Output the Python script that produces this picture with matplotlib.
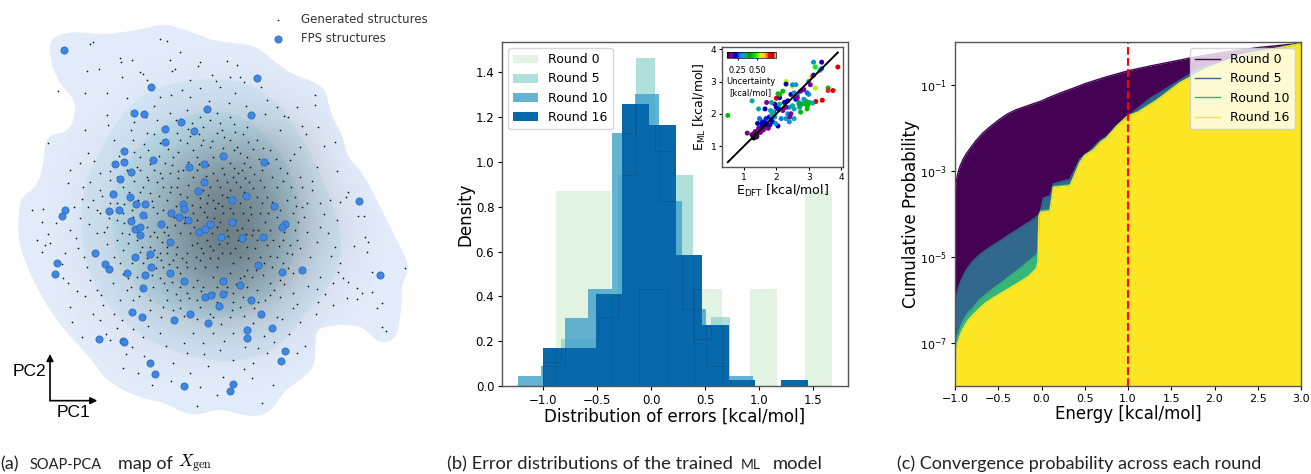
#!/usr/bin/env python3
"""Three panel figure: SOAP-PCA map, error histograms, convergence probability."""

import numpy as np
import matplotlib
matplotlib.use("Agg")
import matplotlib.pyplot as plt
from matplotlib.colors import LinearSegmentedColormap
from matplotlib.patches import PathPatch
from matplotlib.path import Path

W, H = 1311, 474

# --- panel (a), coordinates (PC1 right, PC2 down)
fps_points = [
    (193,150),(771,234),(453,262),(620,327),(403,338),(432,343),(752,344),(543,367),(494,386),(583,393),
    (495,426),(372,454),(668,467),(459,479),(371,487),(346,493),(793,486),(613,491),(568,502),(392,515),
    (359,537),(613,546),(595,572),(338,582),(391,592),(738,587),(697,599),(408,611),(436,611),(550,611),
    (1076,602),(823,619),(553,627),(195,630),(187,647),(327,632),(356,630),(514,638),(428,644),(538,652),
    (565,661),(392,664),(482,673),(697,666),(630,673),(854,673),(846,680),(405,686),(419,681),(597,695),
    (615,687),(421,705),(663,710),(727,715),(790,710),(511,726),(285,760),(449,763),(405,770),(170,789),
    (315,791),(328,807),(452,802),(775,795),(907,811),(165,821),(380,818),(509,820),(434,824),(846,817),
    (1140,826),(553,843),(669,842),(720,856),(428,863),(668,883),(615,890),(633,886),(752,899),(658,918),
    (396,936),(570,941),(784,943),(425,952),(521,959),(623,969),(740,989),(816,985),(740,1014),(297,1018),
    (370,1024),(372,1027),(855,1052),(843,1082),(450,1090),(466,1122),(552,1157),(698,1153),(689,1173),
]
gen_points = [
    (175,272),(280,127),(270,132),(480,118),(500,122),(360,175),(395,180),(260,212),(298,208),(365,230),
    (420,215),(525,207),(510,180),(570,240),(635,225),(690,230),(720,230),(600,185),(680,183),(710,195),
    (255,280),(320,280),(380,295),(440,240),(480,290),(540,155),(545,270),(600,265),(660,260),(705,280),
    (800,300),(830,320),(890,320),(945,285),(945,315),(905,378),(955,380),(1005,425),(900,440),(865,350),
    (320,345),(255,390),(145,428),(265,460),(210,510),(240,490),(270,545),(300,520),(95,630),(125,665),
    (130,628),(110,720),(135,735),(125,755),(150,730),(210,690),(240,655),(265,620),(250,560),(280,600),
    (195,760),(205,850),(190,835),(210,920),(215,965),(245,1010),(255,888),(290,870),(310,915),(360,900),
    (365,960),(330,1020),(395,1040),(370,1105),(415,1120),(455,1155),(590,1218),(650,1185),(785,1210),(820,1155),
    (755,1135),(600,1160),(520,1090),(560,1060),(610,1030),(660,1050),(700,1080),(760,1090),(800,1060),(890,1060),
    (900,965),(880,925),(955,905),(1000,915),(1040,895),(1070,865),(1085,880),(1115,875),(1145,910),(1130,925),
    (1145,980),(1158,992),(1215,803),(1115,815),(1095,712),(1105,725),(1075,648),(1045,575),(1020,605),(990,600),
    (1005,740),(1020,790),(1015,815),(985,700),(960,680),(950,725),(930,770),(960,830),(1000,850),(1045,845),
    (920,610),(935,570),(900,530),(950,500),(870,480),(905,560),(960,610),(885,690),(900,745),(880,820),
    (880,880),(840,890),(830,950),(760,970),(700,1000),(640,1000),(580,1000),(480,1000),(430,1010),(350,985),
    (300,960),(260,800),(235,745),(290,700),(320,680),(350,720),(370,750),(340,850),(380,870),(400,900),
    (450,900),(490,920),(540,900),(600,920),(640,950),(690,950),(720,920),(770,870),(810,850),(840,840),
    (860,760),(850,720),(880,640),(860,600),(830,560),(860,520),(810,450),(770,420),(740,380),(690,350),
    (650,340),(600,350),(560,330),(510,340),(470,360),(440,400),(400,420),(420,470),(380,510),(330,540),
    (300,570),(440,530),(480,520),(520,470),(560,430),(610,420),(650,400),(690,420),(720,460),(750,500),
    (780,540),(800,590),(780,640),(760,690),(740,740),(700,790),(650,800),(600,780),(560,760),(520,780),
    (480,760),(470,710),(500,680),(540,700),(590,730),(640,750),(680,730),(710,690),(670,640),(640,600),
    (600,620),(660,560),(700,530),(640,520),(580,530),(530,560),(500,600),(470,640),(450,580),(510,520),
    (560,590),(620,650),(650,680),(590,660),(570,700),(530,740),(620,720),(680,690),(730,640),(750,620),
    (770,590),(720,560),(690,490),(640,470),(590,470),(550,510),(490,560),(460,620),(440,680),(450,740),
    (490,800),(540,820),(590,840),(640,830),(690,820),(740,810),(780,770),(810,690),(830,650),(350,610),
    (370,640),(330,610),(300,640),(360,790),(410,830),(460,860),(500,870),(560,880),(700,880),(740,860),
    (610,570),(630,560),(655,610),(680,590),(620,610),(580,640),(545,630),(600,700),(635,700),(660,665),
    (700,640),(720,610),(745,660),(770,720),(690,760),(655,775),(610,760),(575,735),(545,775),(500,740),
    (515,495),(535,535),(565,555),(590,510),(625,495),(665,505),(680,545),(715,520),(735,535),(760,565),
    (785,610),(805,640),(795,665),(775,690),(755,705),(725,685),(705,660),(690,625),(665,585),(645,625),
    (625,585),(600,595),(575,615),(555,650),(525,675),(505,705),(485,725),(470,770),(500,760),(530,800),
    (560,800),(585,805),(615,800),(630,775),(665,760),(705,745),(720,770),(745,775),(765,745),(800,735),
    (820,720),(830,770),(815,800),(790,825),(755,830),(720,835),(680,860),(650,860),(610,860),(580,860),
    (540,860),(515,845),(480,835),(455,825),(430,790),(425,740),(410,720),(400,650),(415,600),(430,560),
    (470,545),(495,490),(535,455),(580,450),(630,440),(670,445),(710,440),(740,470),(785,510),(815,530),
    (350,660),(365,700),(385,730),(395,790),(385,835),(500,900),(540,925),(590,900),(650,905),(700,905),
    (730,890),(775,905),(810,885),(850,790),(870,735),(895,665),(905,620),(885,590),(840,505),(790,445),
    (745,425),(705,395),(660,370),(610,380),(575,370),(530,400),(480,430),(445,450),(410,500),(370,560),
    # outer scatter
    (362,187),(428,221),(517,213),(593,199),(648,243),(731,247),(783,262),(852,347),(917,402),(973,437),
    (1011,512),(1037,591),(1093,648),(1011,661),(1063,738),(1102,757),(1028,833),(1071,897),(976,882),(923,858),
    (947,943),(868,1001),(914,1037),(823,1027),(773,1043),(731,1108),(669,1132),(623,1097),(571,1118),(513,1143),
    (431,1067),(377,1063),(318,1001),(278,941),(231,872),(187,793),(143,702),(167,668),(221,622),(247,596),
    (203,549),(283,483),(341,421),(323,376),(401,365),(463,318),(512,284),(571,291),(628,302),(687,309),
    (738,318),(795,343),(841,391),(883,463),(937,543),(971,643),(993,767),(951,868),(892,913),(847,957),
    (793,1007),(734,1041),(672,1023),(612,1063),(553,1028),(497,1037),(443,977),(398,987),(341,941),(303,884),
    (271,839),(252,771),(227,713),(268,673),(291,629),(307,589),(329,513),(357,467),(392,391),(438,352),
    # ring around the core
    (338,573),(352,531),(377,488),(402,456),(431,432),(463,402),(497,379),(528,361),(563,388),(597,403),
    (631,361),(667,389),(703,372),(729,402),(758,447),(776,478),(803,489),(827,477),(848,543),(872,561),
    (889,617),(913,652),(921,697),(892,721),(877,762),(864,803),(851,853),(823,871),(796,901),(763,925),
    (731,947),(697,929),(663,973),(629,941),(592,957),(553,947),(518,929),(483,952),(449,931),(418,889),
    (393,861),(368,823),(343,771),(322,733),(313,697),(328,653),(373,611),(388,577),(403,543),(421,511),
    (451,493),(477,469),(503,447),(539,421),(571,409),(603,436),(637,423),(673,412),(701,451),(731,489),
    (763,521),(793,561),(817,607),(839,631),(853,697),(836,739),(811,767),(791,789),(767,809),(733,829),
    (707,853),(677,877),(641,879),(603,873),(567,893),(529,881),(493,849),(469,803),(441,773),(419,757),
    (387,703),(371,669),(397,629),(419,577),(443,541),(463,511),(487,533),(513,561),(541,583),(527,617),
    (489,629),(477,667),(461,697),(493,697),(521,651),(551,669),(583,681),(611,637),(643,653),(667,617),
    (691,571),(709,547),(731,577),(753,641),(737,701),(713,719),(683,707),(657,731),(631,739),(603,743),
    (587,771),(557,787),(527,761),(507,793),(483,781),(463,749),(449,709),(439,651),(457,603),(477,589),
    (511,577),(533,513),(563,487),(597,491),(617,527),(651,541),(673,523),(701,503),(727,509),(747,547),
]

# filled density contours of the map, outer to inner
kde_outer = [
    (150,120),(185,100),(240,95),(300,105),(380,95),(440,85),(490,70),(540,85),(600,105),(650,125),(720,130),
    (770,140),(830,190),(880,225),(930,240),(975,265),(985,310),(1000,360),(1030,410),(1040,470),(1090,520),
    (1130,600),(1160,660),(1195,730),(1225,790),(1225,815),(1205,850),(1205,920),(1195,990),(1180,1020),
    (1150,1030),(1120,1015),(1095,985),(1060,975),(1000,975),(950,985),(945,1040),(945,1100),(900,1140),
    (850,1175),(820,1225),(780,1250),(720,1245),(660,1225),(600,1245),(550,1240),(500,1210),(450,1200),
    (400,1185),(350,1160),(310,1130),(280,1085),(240,1040),(200,1000),(160,945),(120,880),(90,820),(70,770),
    (55,720),(55,640),(65,590),(110,560),(130,500),(135,430),(150,405),(205,395),(225,350),(225,300),
    (195,270),(165,225),(150,170),
]
kde_middle = [
    (470,260),(600,235),(720,240),(830,300),(900,400),(960,520),(1010,640),(1030,760),(990,860),(900,960),
    (830,1050),(700,1090),(560,1070),(440,1020),(330,930),(270,830),(240,700),(250,560),(310,430),(380,320),
]
kde_inner = [
    (560,340),(700,330),(810,410),(880,530),(905,660),(880,790),(800,900),(680,960),(540,950),(430,890),
    (360,790),(330,660),(360,520),(440,410),
]
# local darkness of the dot cloud, rows top to bottom
cloud_pc1 = [150, 250, 350, 450, 550, 650, 750, 850, 950, 1050, 1150]
cloud_pc2 = [150, 250, 350, 450, 550, 650, 750, 850, 950, 1050, 1150]
cloud_density = [
    [0.00, 0.00, 0.00, 0.00, 0.00, 0.00, 0.00, 0.00, 0.00, 0.00, 0.00],
    [0.00, 0.00, 0.00, 0.01, 0.02, 0.02, 0.02, 0.01, 0.00, 0.00, 0.00],
    [0.00, 0.00, 0.01, 0.03, 0.06, 0.08, 0.08, 0.06, 0.02, 0.00, 0.00],
    [0.00, 0.01, 0.03, 0.08, 0.16, 0.24, 0.26, 0.18, 0.05, 0.00, 0.00],
    [0.00, 0.02, 0.06, 0.16, 0.30, 0.40, 0.38, 0.26, 0.09, 0.01, 0.00],
    [0.00, 0.03, 0.08, 0.18, 0.34, 0.46, 0.44, 0.30, 0.12, 0.03, 0.00],
    [0.00, 0.03, 0.08, 0.18, 0.36, 0.46, 0.44, 0.28, 0.11, 0.03, 0.00],
    [0.00, 0.01, 0.05, 0.13, 0.26, 0.36, 0.32, 0.18, 0.06, 0.01, 0.00],
    [0.00, 0.01, 0.02, 0.06, 0.11, 0.15, 0.14, 0.08, 0.02, 0.00, 0.00],
    [0.00, 0.00, 0.01, 0.02, 0.03, 0.04, 0.04, 0.02, 0.00, 0.00, 0.00],
    [0.00, 0.00, 0.00, 0.00, 0.00, 0.00, 0.00, 0.00, 0.00, 0.00, 0.00],
]

# --- panel (b) histograms
rounds_hist = ["Round 0", "Round 5", "Round 10", "Round 16"]
hist_edges = [
    [-0.877, -0.621, -0.366, -0.110, 0.146, 0.401, 0.657, 0.912, 1.168, 1.423, 1.679],
    [-1.003, -0.831, -0.658, -0.486, -0.310, -0.138, 0.037, 0.210, 0.385, 0.558, 0.730],
    [-1.231, -1.014, -0.797, -0.580, -0.363, -0.146, 0.071, 0.290, 0.507, 0.724, 0.940],
    [-1.000, -0.754, -0.510, -0.264, -0.018, 0.228, 0.472, 0.718, 0.961, 1.204, 1.451],
]
hist_heights = [
    [0.87, 0.87, 0.0, 0.435, 0.0, 0.435, 0.0, 0.435, 0.0, 0.87],
    [0.105, 0.21, 0.21, 0.31, 0.94, 1.465, 1.05, 0.94, 0.21, 0.31],
    [0.045, 0.09, 0.305, 0.435, 1.13, 1.305, 0.825, 0.345, 0.09, 0.045],
    [0.17, 0.17, 0.41, 1.26, 1.165, 0.585, 0.27, 0.025, 0.0, 0.025],
]
hist_colors = ["#bae4bc", "#7bccc4", "#43a2ca", "#0868ac"]
hist_alphas = [0.42, 0.6, 0.82, 1.0]

# --- inset parity plot
e_dft = [
    0.50, 1.10, 1.25, 1.30, 1.33, 1.40, 1.30, 1.37, 1.45, 1.50, 1.55, 1.60, 1.65, 1.70, 1.75, 1.80, 1.85, 1.35, 1.38,
    1.42, 1.48, 1.52, 1.58, 1.62, 1.68, 1.72, 1.78, 1.82, 1.88, 1.92, 1.95, 2.00, 2.05, 2.10, 2.15, 2.20, 2.25, 2.30,
    2.35, 2.40, 2.45, 2.50, 2.55, 2.60, 2.65, 2.70, 2.75, 2.80, 2.85, 2.90, 2.95, 3.00, 1.25, 1.40, 1.50, 1.55, 1.85,
    1.90, 1.95, 2.00, 2.05, 2.10, 2.10, 2.20, 2.30, 2.35, 2.42, 2.55, 2.75, 2.60, 2.65, 2.72, 2.85, 2.90, 2.95, 3.00,
    3.05, 3.10, 3.15, 3.20, 3.20, 3.15, 3.35, 3.40, 3.40, 3.90, 3.60, 3.60, 3.75, 3.42, 3.22, 3.03, 3.12, 2.97, 2.95,
    2.30, 2.50, 1.98, 2.05, 2.10, 2.45, 2.40, 2.30, 2.50, 1.65, 1.70, 1.45, 1.85, 2.70, 2.55,
]
e_ml = [
    1.95, 1.40, 1.35, 1.25, 1.30, 1.38, 1.38, 1.33, 1.55, 1.50, 1.62, 1.50, 1.72, 1.60, 1.55, 1.65, 1.80, 1.45, 1.28,
    1.70, 1.85, 1.45, 1.75, 1.58, 1.85, 1.65, 1.90, 2.10, 1.75, 2.05, 1.90, 2.20, 1.62, 2.30, 1.85, 2.10, 2.35, 1.85,
    2.40, 2.20, 2.60, 2.25, 2.65, 2.45, 2.60, 2.35, 2.70, 2.30, 2.45, 2.40, 2.35, 2.60, 2.40, 1.30, 1.42, 1.70, 1.95,
    2.05, 2.30, 2.48, 2.62, 2.50, 2.15, 2.70, 2.20, 2.00, 1.90, 1.85, 2.05, 2.90, 2.50, 2.20, 2.75, 2.30, 2.65, 3.00,
    2.90, 3.15, 3.20, 2.80, 3.45, 3.60, 3.35, 3.40, 3.60, 3.45, 2.80, 2.72, 2.72, 2.42, 2.38, 2.35, 2.33, 2.25, 2.15,
    3.00, 2.85, 1.70, 2.15, 2.60, 2.00, 1.75, 2.92, 2.90, 2.15, 2.35, 2.15, 2.35, 2.30, 2.15,
]
uncertainty = [
    0.43, 0.15, 0.13, 0.11, 0.11, 0.11, 0.14, 0.12, 0.16, 0.15, 0.20, 0.16, 0.22, 0.21, 0.16, 0.20, 0.22, 0.14, 0.11,
    0.22, 0.27, 0.16, 0.22, 0.16, 0.25, 0.20, 0.24, 0.32, 0.22, 0.24, 0.30, 0.22, 0.23, 0.36, 0.28, 0.16, 0.22, 0.30,
    0.22, 0.30, 0.20, 0.35, 0.30, 0.22, 0.28, 0.36, 0.16, 0.38, 0.30, 0.36, 0.42, 0.30, 0.34, 0.13, 0.15, 0.22, 0.33,
    0.35, 0.20, 0.68, 0.43, 0.20, 0.36, 0.43, 0.16, 0.30, 0.18, 0.33, 0.43, 0.30, 0.17, 0.36, 0.16, 0.43, 0.27, 0.33,
    0.17, 0.62, 0.20, 0.52, 0.48, 0.30, 0.30, 0.27, 0.20, 0.68, 0.43, 0.72, 0.68, 0.68, 0.68, 0.36, 0.36, 0.43, 0.43,
    0.52, 0.55, 0.30, 0.22, 0.43, 0.16, 0.30, 0.20, 0.30, 0.22, 0.16, 0.34, 0.36, 0.38, 0.33,
]

# --- panel (c) cumulative curves: energy and log10 probability
rounds_cum = ["Round 0", "Round 5", "Round 10", "Round 16"]
cum_colors = ["#440154", "#31688e", "#35b779", "#fde725"]
low_energy = [-1.0, -0.995, -0.985, -0.97, -0.95, -0.92, -0.88, -0.84, -0.79, -0.72, -0.64, -0.55, -0.45, -0.35,
              -0.25, -0.15, -0.056]
high_energy = [-0.04, -0.03, -0.01, 0.098, 0.137, 0.33, 0.445, 0.5, 0.6, 0.684, 0.753, 0.87, 0.99, 1.12, 1.33, 1.6,
               1.91, 2.3, 3.0]
cum_energy = [
    [-1.0, -0.99, -0.98, -0.96, -0.94, -0.91, -0.87, -0.82, -0.76, -0.68, -0.6, -0.5, -0.4, -0.3, -0.2, -0.1, 0.0,
     0.1, 0.25, 0.4, 0.5, 0.75, 1.0, 1.25, 1.5, 1.75, 2.0, 2.5, 3.0],
    [-1.0, -0.99, -0.97, -0.95, -0.92, -0.88, -0.84, -0.79, -0.7, -0.6, -0.5, -0.4, -0.3, -0.2, -0.1, -0.017, 0.02,
     0.098, 0.137, 0.33, 0.445, 0.5, 0.56, 0.676, 0.753, 0.87, 1.0, 1.25, 1.6, 1.79, 2.2, 2.6, 3.0],
    low_energy + high_energy,
    low_energy + high_energy,
]
cum_log10 = [
    [-3.5, -3.3, -3.17, -3.0, -2.88, -2.74, -2.6, -2.46, -2.3, -2.12, -1.98, -1.82, -1.68, -1.58, -1.51, -1.44, -1.37,
     -1.28, -1.16, -1.05, -0.97, -0.81, -0.67, -0.56, -0.46, -0.36, -0.27, -0.13, -0.03],
    [-6.14, -6.0, -5.8, -5.65, -5.5, -5.34, -5.22, -5.09, -4.92, -4.78, -4.65, -4.52, -4.39, -4.26, -4.13, -4.0, -3.63,
     -3.58, -3.3, -3.19, -2.72, -2.62, -2.54, -2.29, -2.2, -1.94, -1.73, -1.32, -0.89, -0.66, -0.4, -0.2, -0.03],
    [-7.25, -7.13, -7.0, -6.85, -6.7, -6.55, -6.4, -6.28, -6.18, -6.0, -5.87, -5.72, -5.58, -5.42, -5.27, -5.1, -4.95,
     -4.85, -4.02, -3.92, -3.9, -3.36, -3.32, -2.78, -2.63, -2.5, -2.32, -2.22, -1.95, -1.73, -1.62, -1.35, -0.94,
     -0.61, -0.3, -0.03],
    [-7.4, -7.3, -7.15, -7.0, -6.87, -6.72, -6.57, -6.45, -6.34, -6.2, -6.06, -5.94, -5.82, -5.7, -5.58, -5.45, -5.26,
     -5.1, -4.08, -3.96, -3.93, -3.38, -3.34, -2.8, -2.64, -2.51, -2.33, -2.23, -1.96, -1.73, -1.63, -1.36, -0.95,
     -0.62, -0.31, -0.04],
]


def px_axes(fig, left, top, right, bottom):
    """Axes placed by picture pixels, y counted from the top."""
    return fig.add_axes([left / W, 1 - bottom / H, (right - left) / W, (bottom - top) / H])


def smooth_patch(outline, **kwargs):
    """Closed quadratic curve with the outline points as control points."""
    pts = np.array(outline, dtype=float)
    mids = (pts + np.roll(pts, -1, axis=0)) / 2
    verts, codes = [mids[-1]], [Path.MOVETO]
    for ctrl, mid in zip(pts, mids):
        verts += [ctrl, mid]
        codes += [Path.CURVE3, Path.CURVE3]
    return PathPatch(Path(verts, codes), **kwargs)


def style_spines(ax):
    for spine in ax.spines.values():
        spine.set_color("#555555")
        spine.set_linewidth(1.0)


def draw_map(ax):
    ax.axis("off")
    ax.add_patch(smooth_patch(kde_outer, facecolor="#e1ebf9", edgecolor="none", zorder=1))
    ax.add_patch(smooth_patch(kde_middle, facecolor="#d4e7f7", edgecolor="none", zorder=1))
    ax.add_patch(smooth_patch(kde_inner, facecolor="#c4e6f6", edgecolor="none", zorder=1))

    cloud_cmap = LinearSegmentedColormap.from_list("cloud", [(0, 0, 0, 0), (0, 0, 0, 1)])
    ax.imshow(
        cloud_density, cmap=cloud_cmap, vmin=0, vmax=1, interpolation="bicubic", zorder=2, aspect="auto",
        extent=(cloud_pc1[0] - 50, cloud_pc1[-1] + 50, cloud_pc2[-1] + 50, cloud_pc2[0] - 50),
    )
    ax.set_xlim(0, 1293)
    ax.set_ylim(1422, 0)

    gen = np.array(gen_points)
    fps = np.array(fps_points)
    ax.scatter(gen[:, 0], gen[:, 1], s=1.5, c="#111111", linewidths=0, zorder=3, label="Generated structures")
    ax.scatter(fps[:, 0], fps[:, 1], s=27, c="#3f87e4", edgecolors="#2b62ad", linewidths=0.5, zorder=4,
               label="FPS structures")
    ax.legend(loc="upper right", bbox_to_anchor=(1.022, 1.0), frameon=False, fontsize=8.5, scatterpoints=1,
              labelspacing=0.5, handletextpad=0.9, borderpad=0.6, labelcolor="#333333")

    # PC1 / PC2 direction arrows
    for end in [(292, 1202), (150, 1062)]:
        ax.annotate("", xy=end, xytext=(150, 1202), zorder=5,
                    arrowprops=dict(arrowstyle="-|>", color="black", lw=1.2, shrinkA=0, shrinkB=0))
    ax.text(88, 1113, "PC2", family="Liberation Sans", fontsize=12.5, ha="center", va="center")
    ax.text(220, 1237, "PC1", family="Liberation Sans", fontsize=12.5, ha="center", va="center")


def draw_hist(ax):
    patches = []
    for label, edges, heights, color, alpha in zip(rounds_hist, hist_edges, hist_heights, hist_colors, hist_alphas):
        patches.append(ax.stairs(heights, edges, fill=True, color=color, alpha=alpha, lw=0, label=label))
    # outlines of the older rounds show through the top bars
    for edges, heights in zip(hist_edges[:-1], hist_heights[:-1]):
        line = ax.stairs(heights, edges, color="black", alpha=0.12, lw=0.6)
        line.set_clip_path(patches[-1])
    ax.set_xlim(-1.379, 1.823)
    ax.set_ylim(0, 1.535)
    ax.set_xticks([-1.0, -0.5, 0.0, 0.5, 1.0, 1.5])
    ax.set_yticks([0.0, 0.2, 0.4, 0.6, 0.8, 1.0, 1.2, 1.4])
    ax.tick_params(labelsize=8.5, length=3, pad=2.5)
    ax.set_xlabel("Distribution of errors [kcal/mol]", fontsize=12, labelpad=1)
    ax.set_ylabel("Density", fontsize=12, labelpad=1)
    ax.legend(loc="upper left", fontsize=9, borderaxespad=0.5)
    style_spines(ax)


def draw_inset(ax, fig):
    points = ax.scatter(e_dft, e_ml, c=uncertainty, s=13, cmap="nipy_spectral", vmin=0.112, vmax=0.746, linewidths=0)
    ax.plot([0.5, 3.9], [0.5, 3.9], color="black", lw=1.4)
    ax.set_xlim(0.32, 4.06)
    ax.set_ylim(0.35, 4.07)
    ax.set_xticks([1, 2, 3, 4])
    ax.set_yticks([1, 2, 3, 4])
    ax.tick_params(labelsize=6.5, length=2, pad=2)
    ax.set_xlabel(r"E$_{\mathrm{DFT}}$ [kcal/mol]", fontsize=9, labelpad=1)
    ax.set_ylabel(r"E$_{\mathrm{ML}}$ [kcal/mol]", fontsize=9, labelpad=2)
    style_spines(ax)

    cax = px_axes(fig, 727, 52, 776, 58)
    bar = fig.colorbar(points, cax=cax, orientation="horizontal", ticks=[0.25, 0.50])
    bar.ax.set_xticklabels(["0.25", "0.50"])
    bar.ax.tick_params(labelsize=5.8, length=1.5, pad=4)
    bar.outline.set_linewidth(0.5)
    ax.text(0.235, 0.665, "Uncertainty\n[kcal/mol]", transform=ax.transAxes, fontsize=6, ha="center", va="center")


def draw_cumulative(ax):
    for label, energy, log_p, color in zip(rounds_cum, cum_energy, cum_log10, cum_colors):
        prob = 10.0 ** np.array(log_p)
        ax.fill_between(energy, 1e-8, prob, color=color, lw=0)
        ax.plot(energy, prob, color=color, lw=1.0, label=label)
    ax.axvline(1.0, color="red", ls="--", lw=1.5)
    ax.set_yscale("log")
    ax.set_xlim(-1, 3)
    ax.set_ylim(1e-8, 1)
    ax.set_xticks([-1.0, -0.5, 0.0, 0.5, 1.0, 1.5, 2.0, 2.5, 3.0])
    ax.set_yticks([1e-7, 1e-5, 1e-3, 1e-1])
    ax.minorticks_off()
    ax.tick_params(labelsize=8, length=3, pad=2.5)
    ax.set_xlabel("Energy [kcal/mol]", fontsize=12, labelpad=1)
    ax.set_ylabel("Cumulative Probability", fontsize=12, labelpad=0)
    ax.legend(loc="upper right", fontsize=9, borderaxespad=0.5)
    style_spines(ax)


def draw_captions(fig):
    parts = [
        (0, "(a)", 13), (30, "SOAP-PCA", 10.5), (118, "map of", 13),
        (447, "(b) Error distributions of the trained", 13.2), (741, "ML", 10), (773, "model", 13.2),
        (897, "(c) Convergence probability across each round", 13),
    ]
    for x, text, size in parts:
        fig.text(x / W, 1 - 469 / H, text, family="Lato", fontsize=size, color="#222222", va="baseline")
    fig.text(178 / W, 1 - 467 / H, r"$X_{\mathrm{gen}}$", fontsize=12.5, math_fontfamily="cm", va="baseline")


def main():
    fig = plt.figure(figsize=(W / 100, H / 100), dpi=100)
    draw_map(px_axes(fig, 0, 0, 431, 474))
    draw_hist(px_axes(fig, 502, 42, 848, 386))
    draw_inset(px_axes(fig, 722, 47, 843, 167), fig)
    draw_cumulative(px_axes(fig, 955, 42, 1301, 386))
    draw_captions(fig)
    fig.savefig("out.png", dpi=100)
    plt.close(fig)


if __name__ == "__main__":
    main()
